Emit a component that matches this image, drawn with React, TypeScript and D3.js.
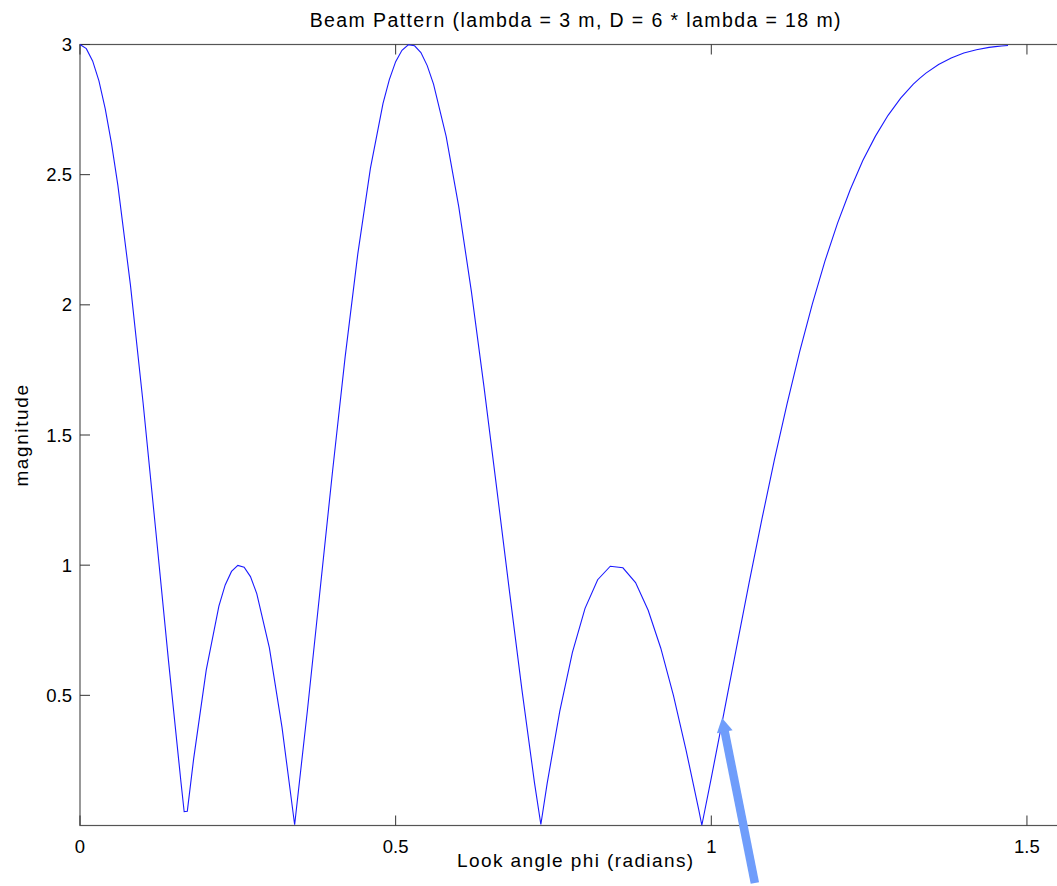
import React, { useRef, useEffect } from 'react';
import * as d3 from 'd3';

// look angle samples (radians) and magnitude
const phiValues = [
  0, 0.01, 0.02, 0.03, 0.04, 0.05, 0.06, 0.08, 0.1, 0.12, 0.14, 0.16, 0.165, 0.17, 0.18,
  0.2, 0.22, 0.23, 0.24, 0.25, 0.26, 0.27, 0.28, 0.3, 0.32, 0.34, 0.36, 0.38, 0.4, 0.42,
  0.44, 0.46, 0.48, 0.49, 0.5, 0.51, 0.52, 0.53, 0.54, 0.55, 0.56, 0.58, 0.6, 0.62, 0.64,
  0.66, 0.68, 0.7, 0.72, 0.73, 0.74, 0.76, 0.78, 0.8, 0.82, 0.84, 0.86, 0.88, 0.9, 0.92,
  0.94, 0.96, 0.98, 0.985, 1.0, 1.02, 1.04, 1.06, 1.08, 1.1, 1.12, 1.14, 1.16, 1.18, 1.2,
  1.22, 1.24, 1.26, 1.28, 1.3, 1.32, 1.33, 1.34, 1.36, 1.38, 1.39, 1.4, 1.42, 1.44, 1.45,
  1.46, 1.47,
];
const magnitudeValues = [
  3.0, 2.984, 2.937, 2.86, 2.753, 2.618, 2.459, 2.074, 1.622, 1.133, 0.637, 0.165, 0.053, 0.055, 0.256,
  0.598, 0.843, 0.924, 0.976, 0.999, 0.992, 0.956, 0.891, 0.682, 0.377, 0.003, 0.437, 0.898, 1.36, 1.8,
  2.195, 2.524, 2.774, 2.865, 2.934, 2.978, 2.999, 2.995, 2.969, 2.919, 2.848, 2.647, 2.376, 2.051, 1.684,
  1.297, 0.905, 0.522, 0.163, 0.004, 0.162, 0.439, 0.665, 0.834, 0.944, 0.996, 0.99, 0.933, 0.827, 0.681,
  0.5, 0.29, 0.062, 0.001, 0.183, 0.433, 0.684, 0.934, 1.175, 1.405, 1.62, 1.82, 2.003, 2.168, 2.314,
  2.442, 2.554, 2.648, 2.728, 2.794, 2.848, 2.87, 2.89, 2.923, 2.948, 2.958, 2.967, 2.98, 2.989, 2.992,
  2.994, 2.996,
];

const xTicks = [0, 0.5, 1, 1.5];
const yTicks = [0.5, 1, 1.5, 2, 2.5, 3];

const title = 'Beam Pattern (lambda = 3 m, D = 6 * lambda = 18 m)';
const xLabel = 'Look angle phi (radians)';
const yLabel = 'magnitude';

// annotation arrow, in data units: [phi, magnitude]
const arrowTail = [1.069, -0.221];
const arrowTip = [1.017, 0.413];

const App = () => {
  const chartRef = useRef<SVGSVGElement>(null);

  useEffect(() => {
    const width = 1057;
    const height = 886;
    const left = 80;
    const top = 44.5;
    const bottom = 825.5;
    const right = left + (Math.PI / 2) * 631.3;
    const font = '"Liberation Sans", Arial, Helvetica, sans-serif';

    const svg = d3.select(chartRef.current);
    svg.selectAll('*').remove();
    svg.attr('width', width).attr('height', height);

    const x = d3.scaleLinear().domain([0, Math.PI / 2]).range([left, right]);
    const y = d3.scaleLinear().domain([0, 3]).range([bottom, top]);

    svg.append('rect').attr('width', width).attr('height', height).attr('fill', '#fff');

    // axes box
    svg
      .append('rect')
      .attr('x', left)
      .attr('y', top)
      .attr('width', right - left)
      .attr('height', bottom - top)
      .attr('fill', 'none')
      .attr('stroke', '#555')
      .attr('stroke-width', 1.2);

    // inward ticks
    const tickLen = 10;
    const ticks = svg.append('g').attr('stroke', '#333').attr('stroke-width', 1);
    xTicks.forEach((t) => {
      ticks.append('line').attr('x1', x(t)).attr('x2', x(t)).attr('y1', bottom).attr('y2', bottom - tickLen);
      ticks.append('line').attr('x1', x(t)).attr('x2', x(t)).attr('y1', top).attr('y2', top + tickLen);
    });
    yTicks.forEach((t) => {
      ticks.append('line').attr('x1', left).attr('x2', left + tickLen).attr('y1', y(t)).attr('y2', y(t));
      ticks.append('line').attr('x1', right).attr('x2', right - tickLen).attr('y1', y(t)).attr('y2', y(t));
    });

    svg
      .append('g')
      .selectAll('text')
      .data(xTicks)
      .enter()
      .append('text')
      .attr('x', (d) => x(d))
      .attr('y', 853)
      .attr('text-anchor', 'middle')
      .attr('font-family', font)
      .attr('font-size', '18.5px')
      .attr('fill', '#000')
      .text((d) => String(d));

    svg
      .append('g')
      .selectAll('text')
      .data(yTicks)
      .enter()
      .append('text')
      .attr('x', 72)
      .attr('y', (d) => y(d) + 6.5)
      .attr('text-anchor', 'end')
      .attr('font-family', font)
      .attr('font-size', '18.5px')
      .attr('fill', '#000')
      .text((d) => String(d));

    // curve
    const points = phiValues.map((p, i) => [p, magnitudeValues[i]] as [number, number]);
    const line = d3
      .line<[number, number]>()
      .x((d) => x(d[0]))
      .y((d) => y(d[1]));
    svg
      .append('path')
      .datum(points)
      .attr('d', line)
      .attr('fill', 'none')
      .attr('stroke', '#1a1aff')
      .attr('stroke-width', 1.1);

    // labels
    svg
      .append('text')
      .attr('x', (left + right) / 2)
      .attr('y', 27)
      .attr('text-anchor', 'middle')
      .attr('font-family', font)
      .attr('font-size', '19.5px')
      .attr('letter-spacing', '1.4px')
      .text(title);

    svg
      .append('text')
      .attr('x', (left + right) / 2)
      .attr('y', 867)
      .attr('text-anchor', 'middle')
      .attr('font-family', font)
      .attr('font-size', '19px')
      .attr('letter-spacing', '1.4px')
      .text(xLabel);

    svg
      .append('text')
      .attr('transform', `translate(28, ${(top + bottom) / 2}) rotate(-90)`)
      .attr('text-anchor', 'middle')
      .attr('font-family', font)
      .attr('font-size', '19px')
      .attr('letter-spacing', '1.6px')
      .text(yLabel);

    // arrow annotation
    const tx = x(arrowTip[0]);
    const ty = y(arrowTip[1]);
    const sx = x(arrowTail[0]);
    const sy = y(arrowTail[1]);
    const len = Math.hypot(tx - sx, ty - sy);
    const ux = (tx - sx) / len;
    const uy = (ty - sy) / len;
    const headLen = 14;
    const headHalf = 8;
    const bx = tx - ux * headLen;
    const by = ty - uy * headLen;
    svg
      .append('line')
      .attr('x1', sx)
      .attr('y1', sy)
      .attr('x2', bx + ux * 2)
      .attr('y2', by + uy * 2)
      .attr('stroke', '#6f9dfb')
      .attr('stroke-width', 8.5);
    svg
      .append('polygon')
      .attr(
        'points',
        [
          [tx, ty],
          [bx - uy * headHalf, by + ux * headHalf],
          [bx + uy * headHalf, by - ux * headHalf],
        ]
          .map((p) => p.join(','))
          .join(' ')
      )
      .attr('fill', '#6f9dfb');
  }, []);

  return <svg ref={chartRef} style={{ position: 'absolute', left: 0, top: 0 }}></svg>;
};

export default App;
